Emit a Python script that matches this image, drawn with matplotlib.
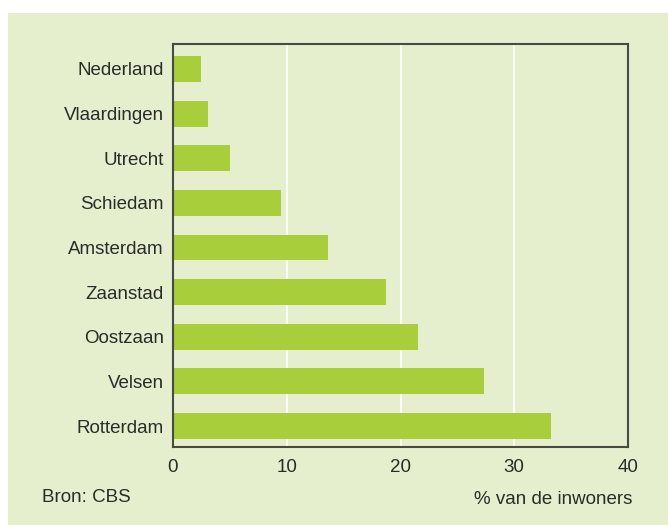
import matplotlib.pyplot as plt
from matplotlib.patches import Rectangle

plt.rcParams['font.family'] = ['Liberation Sans', 'DejaVu Sans']

steden = ['Rotterdam', 'Velsen', 'Oostzaan', 'Zaanstad', 'Amsterdam',
          'Schiedam', 'Utrecht', 'Vlaardingen', 'Nederland']
percentages = [33.2, 27.3, 21.5, 18.7, 13.6, 9.5, 5.0, 3.1, 2.5]
xticks = [0, 10, 20, 30, 40]

bg = '#e5efcd'
groen = '#a8ce3b'
tekst = '#2b2b2b'
fs = 13.5

fig = plt.figure(figsize=(6.68, 5.25), dpi=100)
fig.patch.set_facecolor('white')
# lichtgroen vlak met witte rand links en boven
fig.patches.append(Rectangle((8 / 668, 0), 1, 1 - 13 / 525, transform=fig.transFigure,
                             facecolor=bg, edgecolor='none', zorder=-10))

ax = fig.add_axes([173 / 668, 1 - 447 / 525, 455 / 668, 403 / 525])
ax.set_facecolor(bg)
ax.barh(range(len(steden)), percentages, height=0.58, color=groen, zorder=2)

ax.set_xlim(0, 40)
ax.set_ylim(-0.47, 8.56)
ax.set_xticks(xticks)
ax.set_yticks(range(len(steden)))
ax.set_yticklabels(steden)
for x in xticks[1:-1]:
    ax.axvline(x, color='white', lw=1.2, zorder=1)

ax.tick_params(length=0, labelsize=fs, colors=tekst)
ax.tick_params(axis='y', pad=6.5)
ax.tick_params(axis='x', pad=9)
for s in ax.spines.values():
    s.set_color('#4a4a45')
    s.set_linewidth(1.5)

fig.text(42 / 668, 1 - 497 / 525, 'Bron: CBS', fontsize=fs, color=tekst, va='center')
fig.text(632 / 668, 1 - 500 / 525, '% van de inwoners', fontsize=fs, color=tekst,
         va='center', ha='right')

fig.savefig('out.png', dpi=100, facecolor=fig.get_facecolor())
